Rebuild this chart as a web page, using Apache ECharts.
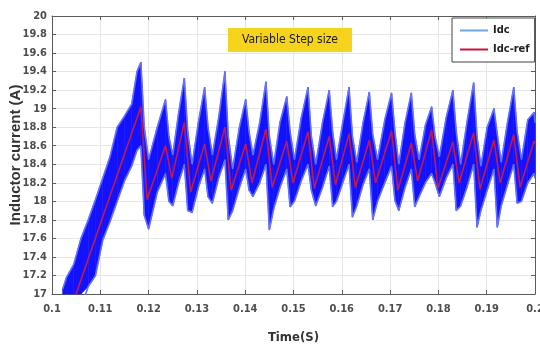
<!DOCTYPE html>
<html>
<head>
<meta charset="utf-8">
<script src="https://cdn.jsdelivr.net/npm/echarts@6/dist/echarts.min.js"></script>
<style>
  html, body { margin: 0; padding: 0; background: #fff; }
  #chart { width: 540px; height: 350px; }
</style>
</head>
<body>
<div id="chart"></div>
<script>
// Idc band (noisy measured current), sampled at the corners of each tooth
const timeS = [
  0.1022, 0.1030, 0.1045, 0.1060, 0.1075, 0.1090, 0.1105, 0.1120, 0.1135, 0.1150, 0.1165, 0.1176,
  0.1184, 0.1191, 0.1200, 0.1218,
  0.1235, 0.1242, 0.1250, 0.1262,
  0.1274, 0.1281, 0.1290, 0.1303,
  0.1316, 0.1323, 0.1332, 0.1345,
  0.1358, 0.1365, 0.1374, 0.1388,
  0.1401, 0.1408, 0.1416, 0.1430,
  0.1443, 0.1450, 0.1459, 0.1472,
  0.1486, 0.1493, 0.1502, 0.1516,
  0.1530, 0.1537, 0.1546, 0.1560,
  0.1574, 0.1581, 0.1589, 0.1602,
  0.1615, 0.1622, 0.1631, 0.1644,
  0.1657, 0.1664, 0.1674, 0.1689,
  0.1703, 0.1710, 0.1718, 0.1731,
  0.1744, 0.1751, 0.1760, 0.1773,
  0.1786, 0.1793, 0.1802, 0.1816,
  0.1830, 0.1837, 0.1846, 0.1859,
  0.1873, 0.1880, 0.1888, 0.1901,
  0.1915, 0.1922, 0.1930, 0.1943,
  0.1956, 0.1963, 0.1972, 0.1985,
  0.1998, 0.2000
];
const idcHigh = [
  17.05, 17.18, 17.32, 17.60, 17.80, 18.02, 18.25, 18.48, 18.80, 18.92, 19.05, 19.40,
  19.50, 18.80, 18.45, 18.80,
  19.10, 18.70, 18.50, 18.95,
  19.33, 18.75, 18.40, 18.85,
  19.23, 18.80, 18.50, 18.90,
  19.40, 18.70, 18.35, 18.80,
  19.10, 18.75, 18.50, 18.85,
  19.29, 18.70, 18.40, 18.85,
  19.13, 18.75, 18.45, 18.90,
  19.23, 18.70, 18.40, 18.85,
  19.20, 18.75, 18.45, 18.85,
  19.23, 18.70, 18.42, 18.85,
  19.18, 18.72, 18.45, 18.88,
  19.17, 18.75, 18.40, 18.85,
  19.17, 18.72, 18.45, 18.82,
  19.02, 18.70, 18.48, 18.90,
  19.20, 18.75, 18.40, 18.85,
  19.28, 18.70, 18.38, 18.80,
  19.00, 18.72, 18.42, 18.85,
  19.23, 18.75, 18.45, 18.88,
  18.96, 18.85
];
const idcLow = [
  16.50, 16.55, 16.62, 16.85, 17.08, 17.20, 17.58, 17.78, 18.00, 18.22, 18.38, 18.55,
  18.60, 17.85, 17.70, 18.10,
  18.30, 18.00, 17.95, 18.20,
  18.40, 17.90, 17.88, 18.15,
  18.35, 18.05, 17.98, 18.25,
  18.45, 17.80, 17.90, 18.15,
  18.35, 18.12, 18.05, 18.20,
  18.40, 17.69, 17.92, 18.15,
  18.35, 17.94, 18.00, 18.22,
  18.40, 18.12, 17.95, 18.15,
  18.38, 17.94, 18.00, 18.20,
  18.40, 17.83, 17.95, 18.18,
  18.35, 17.80, 18.00, 18.20,
  18.38, 18.01, 17.90, 18.15,
  18.35, 17.94, 18.05, 18.20,
  18.30, 18.20, 18.05, 18.25,
  18.40, 17.90, 17.95, 18.15,
  18.40, 17.72, 17.90, 18.12,
  18.35, 17.72, 17.95, 18.18,
  18.40, 17.98, 18.00, 18.20,
  18.30, 18.25
];

// Idc-ref sawtooth
const refTime = [
  0.1020, 0.1184, 0.1197, 0.1235, 0.1248, 0.1274, 0.1287, 0.1316, 0.1329, 0.1358, 0.1371,
  0.1401, 0.1414, 0.1443, 0.1456, 0.1486, 0.1499, 0.1530, 0.1543, 0.1574, 0.1587,
  0.1615, 0.1628, 0.1657, 0.1670, 0.1703, 0.1716, 0.1744, 0.1757, 0.1786, 0.1799,
  0.1830, 0.1843, 0.1873, 0.1886, 0.1915, 0.1928, 0.1956, 0.1969, 0.1998, 0.2000
];
const refValue = [
  16.55, 19.02, 18.02, 18.60, 18.25, 18.85, 18.10, 18.62, 18.22, 18.80, 18.12,
  18.62, 18.20, 18.78, 18.15, 18.65, 18.20, 18.75, 18.14, 18.70, 18.18,
  18.73, 18.15, 18.66, 18.20, 18.76, 18.12, 18.63, 18.22, 18.77, 18.14,
  18.64, 18.20, 18.74, 18.13, 18.66, 18.20, 18.72, 18.15, 18.65, 18.62
];

const font = "'Liberation Sans Narrow', 'DejaVu Sans Condensed', 'Liberation Sans', sans-serif";
const frameColor = '#5a5a5a';
const bandFill = '#1212ff';
const bandEdge = '#6470ff';

const chart = echarts.init(document.getElementById('chart'), null, { renderer: 'canvas' });

const bandData = timeS.map((t, i) => [t, idcLow[i], idcHigh[i]]);
const lowData = timeS.map((t, i) => [t, idcLow[i]]);
const highData = timeS.map((t, i) => [t, idcHigh[i]]);
const refData = refTime.map((t, i) => [t, refValue[i]]);

const xLabel = v => String(parseFloat(v.toFixed(2)));
const yLabel = v => String(parseFloat(v.toFixed(1)));

// fill between low and high, one quad per segment
function renderBand(params, api) {
  const i = params.dataIndexInside;
  if (i === 0) return null;
  const a0 = api.coord([api.value(0, i - 1), api.value(1, i - 1)]);
  const a1 = api.coord([api.value(0, i), api.value(1, i)]);
  const b1 = api.coord([api.value(0, i), api.value(2, i)]);
  const b0 = api.coord([api.value(0, i - 1), api.value(2, i - 1)]);
  const cs = params.coordSys;
  const pts = echarts.graphic.clipPointsByRect([a0, a1, b1, b0], {
    x: cs.x, y: cs.y, width: cs.width, height: cs.height
  });
  return {
    type: 'polygon',
    shape: { points: pts },
    style: { fill: bandFill, stroke: bandFill, lineWidth: 0.6 }
  };
}

chart.setOption({
  animation: false,
  backgroundColor: '#fff',
  title: {
    text: 'Variable Step size',
    left: 228,
    top: 28,
    padding: [6, 14],
    backgroundColor: '#f6d31c',
    textStyle: { fontFamily: font, fontSize: 12, fontWeight: 'normal', color: '#1a1a1a' }
  },
  legend: {
    data: [
      { name: 'Idc', icon: 'rect', itemStyle: { color: '#6fa8dc' } },
      { name: 'Idc-ref', icon: 'rect', itemStyle: { color: '#c8143c' } }
    ],
    orient: 'vertical',
    left: 452,
    top: 18,
    padding: [7, 5, 7, 8],
    itemWidth: 28,
    itemHeight: 2,
    itemGap: 8,
    backgroundColor: '#fff',
    borderColor: '#444',
    borderWidth: 1,
    borderRadius: 0,
    textStyle: { fontFamily: font, fontSize: 11, fontWeight: 'bold', color: '#222' }
  },
  grid: { left: 52, right: 5, top: 16, bottom: 56, outerBoundsMode: 'none', containLabel: false },
  xAxis: [
    {
      type: 'value',
      min: 0.1,
      max: 0.2,
      interval: 0.01,
      name: 'Time(S)',
      nameLocation: 'middle',
      nameGap: 37,
      nameMoveOverlap: false,
      nameTextStyle: { fontFamily: font, fontSize: 13, fontWeight: 'bold', color: '#333' },
      axisLine: { show: true, onZero: false, lineStyle: { color: frameColor } },
      axisTick: { inside: true, length: 4, lineStyle: { color: frameColor } },
      axisLabel: { formatter: xLabel, margin: 10, fontFamily: font, fontSize: 11, fontWeight: 'bold', color: '#4d4d4d' },
      splitLine: { show: true, lineStyle: { color: '#e6e6e6', width: 1 } }
    },
    {
      type: 'value',
      position: 'top',
      min: 0.1,
      max: 0.2,
      interval: 0.01,
      axisLine: { show: true, onZero: false, lineStyle: { color: frameColor } },
      axisTick: { inside: true, length: 4, lineStyle: { color: frameColor } },
      axisLabel: { show: false },
      splitLine: { show: false }
    }
  ],
  yAxis: [
    {
      type: 'value',
      min: 17,
      max: 20,
      interval: 0.2,
      name: 'Inductor current (A)',
      nameLocation: 'middle',
      nameRotate: 90,
      nameGap: 29,
      nameMoveOverlap: false,
      nameTextStyle: { fontFamily: "'Liberation Sans', sans-serif", fontSize: 15, fontWeight: 'bold', color: '#333' },
      axisLine: { show: true, onZero: false, lineStyle: { color: frameColor } },
      axisTick: { inside: true, length: 4, lineStyle: { color: frameColor } },
      axisLabel: { formatter: yLabel, margin: 5, fontFamily: font, fontSize: 11, fontWeight: 'bold', color: '#4d4d4d' },
      splitLine: { show: true, lineStyle: { color: '#e6e6e6', width: 1 } }
    },
    {
      type: 'value',
      position: 'right',
      min: 17,
      max: 20,
      interval: 0.2,
      axisLine: { show: true, onZero: false, lineStyle: { color: frameColor } },
      axisTick: { inside: true, length: 4, lineStyle: { color: frameColor } },
      axisLabel: { show: false },
      splitLine: { show: false }
    }
  ],
  series: [
    {
      name: 'Idc band',
      type: 'custom',
      renderItem: renderBand,
      data: bandData,
      encode: { x: 0, y: [1, 2] },
      silent: true,
      z: 2
    },
    {
      name: 'Idc',
      type: 'line',
      symbol: 'none',
      data: highData,
      lineStyle: { color: bandEdge, width: 1.6 },
      z: 3
    },
    {
      name: 'Idc',
      type: 'line',
      symbol: 'none',
      data: lowData,
      lineStyle: { color: bandEdge, width: 1.6 },
      z: 3
    },
    {
      name: 'Idc-ref',
      type: 'line',
      symbol: 'none',
      data: refData,
      lineStyle: { color: '#c41a4a', width: 1.6 },
      z: 4
    }
  ]
});
</script>
</body>
</html>
